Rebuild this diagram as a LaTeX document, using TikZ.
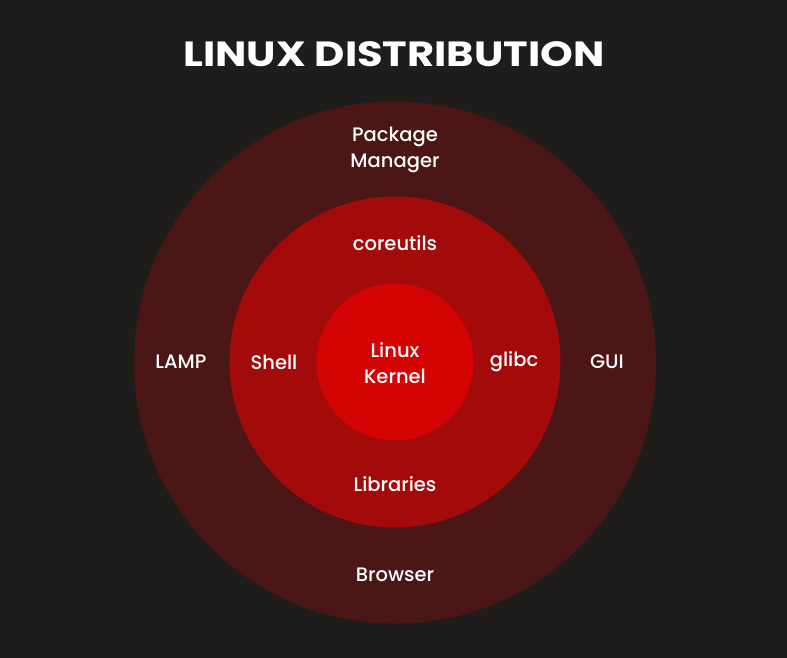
\documentclass[tikz,border=0pt]{standalone}
\usepackage{fontspec}
\setmainfont{Poppins}
\newfontfamily\lblfont{Poppins}[UprightFont={* Medium}]
\definecolor{bg}{HTML}{1E1D1C}
\definecolor{ringA}{HTML}{4B1616}
\definecolor{ringB}{HTML}{A30B0B}
\definecolor{ringC}{HTML}{D40404}
\tikzset{
  lbl/.style={text=white, font=\lblfont\fontsize{19.5}{26.5}\selectfont, align=center, inner sep=0pt},
  ttl/.style={text=white, font=\fontsize{35}{40}\selectfont\bfseries, inner sep=0pt}
}
\begin{document}
\begin{tikzpicture}[x=1pt,y=-1pt]
\fill[bg] (0,0) rectangle (787,658);
\useasboundingbox (0,0) rectangle (787,658);
\node[circle, fill=ringA, minimum size=522pt, inner sep=0pt] (outer) at (395,362.5) {};
\node[circle, fill=ringB, minimum size=331pt, inner sep=0pt] (middle) at (395,362) {};
\node[circle, fill=ringC, minimum size=157pt, inner sep=0pt] (inner) at (395,362) {};
\node[ttl] (title) at (394,54) {\scalebox{1.19}[1]{LINUX DISTRIBUTION}};
\node[lbl] (pm) at (395,150) {Package\\Manager};
\node[lbl] (core) at (395,243) {coreutils};
\node[lbl] (kern) at (395,363) {Linux\\Kernel};
\node[lbl] (shell) at (274,362) {Shell};
\node[lbl] (glibc) at (514,362) {glibc};
\node[lbl] (lamp) at (181,362) {LAMP};
\node[lbl] (gui) at (607,362) {GUI};
\node[lbl] (libs) at (395,484) {Libraries};
\node[lbl] (brow) at (395,575) {Browser};
\end{tikzpicture}
\end{document}
